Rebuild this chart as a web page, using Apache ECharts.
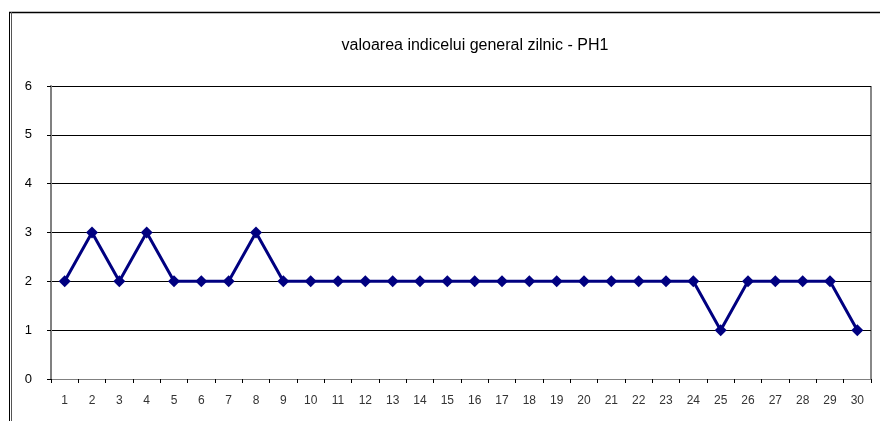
<!DOCTYPE html>
<html><head><meta charset="utf-8">
<script src="https://cdn.jsdelivr.net/npm/echarts@6/dist/echarts.min.js"></script>
<style>html,body{margin:0;padding:0;background:#fff}#c{width:880px;height:421px}</style>
</head><body><div id="c"></div>
<script>
const titleText = 'valoarea indicelui general zilnic - PH1';
const categories = ['1','2','3','4','5','6','7','8','9','10','11','12','13','14','15','16','17','18','19','20','21','22','23','24','25','26','27','28','29','30'];
const values = [2,3,2,3,2,2,2,3,2,2,2,2,2,2,2,2,2,2,2,2,2,2,2,2,1,2,2,2,2,1];
const yTicks = {min:0, max:6, interval:1};

const chart = echarts.init(document.getElementById('c'), null, {renderer:'canvas'});
chart.setOption({
  animation:false,
  backgroundColor:'#fff',
  graphic:[
    {type:'line', shape:{x1:9,y1:12.5,x2:880,y2:12.5}, style:{stroke:'#000',lineWidth:1.5}},
    {type:'line', shape:{x1:9.5,y1:12,x2:9.5,y2:421}, style:{stroke:'#000',lineWidth:1}},
    {type:'line', shape:{x1:11.5,y1:12,x2:11.5,y2:421}, style:{stroke:'#555',lineWidth:1}},
    {type:'line', shape:{x1:51,y1:86.5,x2:871,y2:86.5}, style:{stroke:'#888',lineWidth:1}},
    {type:'line', shape:{x1:871,y1:86,x2:871,y2:379}, style:{stroke:'#888',lineWidth:2}}
  ],
  title:{text:titleText, left:470, top:33, textAlign:'center',
    textStyle:{fontFamily:'Liberation Sans, Arial', fontSize:16, fontWeight:'normal', color:'#000'}},
  grid:{left:51, right:9, top:86, bottom:42, containLabel:false},
  xAxis:{type:'category', data:categories, boundaryGap:true,
    axisLine:{lineStyle:{color:'#808080', width:1}},
    axisTick:{show:true, length:4, alignWithLabel:false, lineStyle:{color:'#000'}},
    axisLabel:{color:'#333', fontFamily:'Liberation Sans, Arial', fontSize:12, margin:16},
    splitLine:{show:false}},
  yAxis:{type:'value', min:yTicks.min, max:yTicks.max, interval:yTicks.interval,
    axisLine:{show:true, lineStyle:{color:'#808080', width:2}},
    axisTick:{show:true, length:4, lineStyle:{color:'#000'}},
    axisLabel:{color:'#000', fontFamily:'Liberation Sans, Arial', fontSize:13, margin:19},
    splitLine:{show:true, lineStyle:{color:'#000', width:1}}},
  series:[{type:'line', data:values, symbol:'diamond', symbolSize:12,
    lineStyle:{color:'#000080', width:3}, itemStyle:{color:'#000080'}}]
});
</script></body></html>
